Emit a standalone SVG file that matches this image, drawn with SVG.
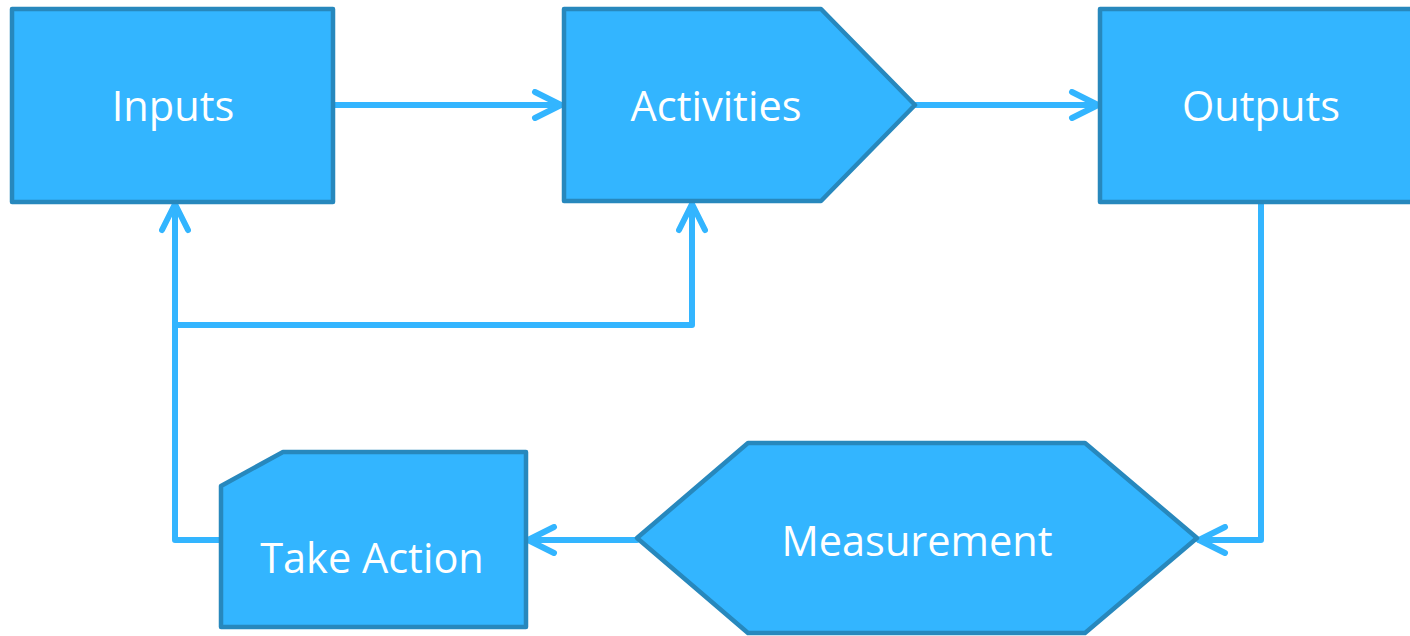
<svg xmlns="http://www.w3.org/2000/svg" width="1410" height="636" viewBox="0 0 1410 636">
<style>
.node{fill:#33B5FF;stroke:#2788BD;stroke-width:4.5;stroke-linejoin:round}
.lbl{fill:#FFFFFF;font-family:"Open Sans","Noto Sans",sans-serif;font-size:41.5px;text-anchor:middle}
.conn{fill:none;stroke:#33B5FF;stroke-width:6;stroke-linejoin:round;stroke-linecap:round}
</style>
<defs>
<marker id="ah" viewBox="-30 -16 34 32" markerWidth="34" markerHeight="32" refX="0" refY="0" orient="auto" markerUnits="userSpaceOnUse">
<path d="M-26,-13 L0,0 L-26,13" fill="none" stroke="#33B5FF" stroke-width="6" stroke-linecap="round" stroke-linejoin="round"/>
</marker>
</defs>
<rect width="1410" height="636" fill="#FFFFFF"/>
<g id="connectors">
<path class="conn" d="M334,105 L561,105" marker-end="url(#ah)"/>
<path class="conn" d="M916,105 L1098,105" marker-end="url(#ah)"/>
<path class="conn" d="M1261,203 L1261,540 L1199,540" marker-end="url(#ah)"/>
<path class="conn" d="M637,540 L528,540" marker-end="url(#ah)"/>
<path class="conn" d="M220,540 L175,540 L175,204" marker-end="url(#ah)"/>
<path class="conn" d="M175,325 L692,325 L692,204" marker-end="url(#ah)"/>
</g>
<g id="inputs">
<rect class="node" x="12" y="9" width="321" height="193"/>
<text class="lbl" x="173" y="121">Inputs</text>
</g>
<g id="activities">
<polygon class="node" points="564,9 821,9 915,105 821,201 564,201"/>
<text class="lbl" x="716" y="121">Activities</text>
</g>
<g id="outputs">
<rect class="node" x="1100" y="9" width="330" height="193"/>
<text class="lbl" x="1261" y="121">Outputs</text>
</g>
<g id="take-action">
<polygon class="node" points="221,486 283,452 526,452 526,627 221,627"/>
<text class="lbl" x="372" y="573">Take Action</text>
</g>
<g id="measurement">
<polygon class="node" points="637,538 748,443 1085,443 1197,538 1085,633 748,633"/>
<text class="lbl" x="917" y="556">Measurement</text>
</g>
</svg>
